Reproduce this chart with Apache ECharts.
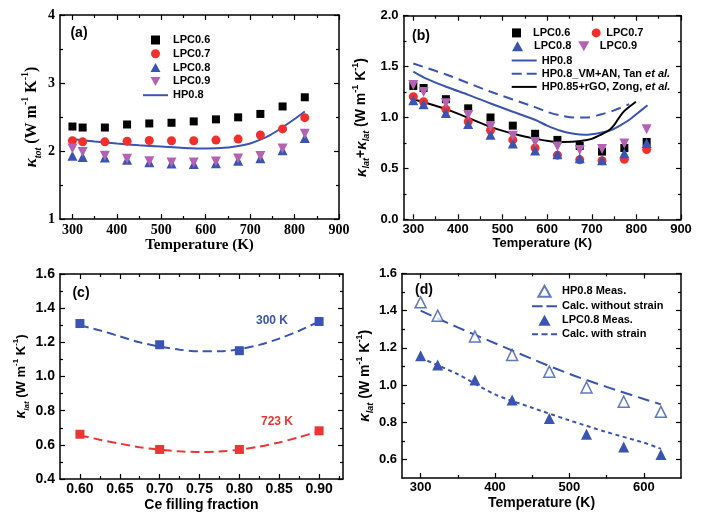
<!DOCTYPE html>
<html><head><meta charset="utf-8">
<script src="https://cdn.jsdelivr.net/npm/echarts@6/dist/echarts.min.js"></script>
<style>html,body{margin:0;padding:0;background:#fff}#c{width:703px;height:517px}</style>
</head><body><div id="c"></div>
<script>
// ---------- Panel (a) ----------
const tempsA = [300,323,373,423,473,523,573,623,673,723,773,823];
const aLPC06 = [2.36,2.345,2.345,2.39,2.405,2.415,2.435,2.465,2.495,2.545,2.655,2.79];
const aLPC07 = [2.15,2.135,2.135,2.145,2.155,2.15,2.15,2.16,2.175,2.235,2.325,2.49];
const aLPC08 = [1.93,1.91,1.905,1.87,1.835,1.815,1.81,1.82,1.855,1.895,2.01,2.19];
const aLPC09 = [2.035,1.985,1.93,1.885,1.85,1.83,1.83,1.845,1.89,1.925,2.035,2.255];
const aHPT = [300,350,400,450,500,550,600,650,680,700,720,745,770,800,823];
const aHP  = [2.175,2.14,2.11,2.085,2.065,2.045,2.035,2.05,2.08,2.11,2.16,2.235,2.335,2.47,2.58];
const aXMajor = [300,400,500,600,700,800,900];
const aXMinor = [350,450,550,650,750,850];
const aYMajor = [1,2,3,4];
const aYMinor = [1.5,2.5,3.5];

// ---------- Panel (b) ----------
const tempsB = [300,323,373,423,473,523,573,623,673,723,773,823];
const bLPC06 = [1.31,1.29,1.18,1.09,1.00,0.92,0.84,0.78,0.72,0.665,0.70,0.76];
const bLPC07 = [1.205,1.155,1.08,0.96,0.875,0.78,0.70,0.63,0.585,0.575,0.59,0.685];
const bLPC08 = [1.17,1.13,1.045,0.935,0.83,0.745,0.675,0.64,0.60,0.58,0.65,0.75];
const bLPC09 = [1.32,1.25,1.14,1.025,0.91,0.82,0.76,0.715,0.68,0.69,0.745,0.885];
const bHPT = [300,325,375,425,472,523,574,600,630,660,685,720,745,765,785,802,825];
const bHP  = [1.45,1.39,1.30,1.22,1.14,1.057,0.975,0.92,0.87,0.84,0.83,0.85,0.88,0.925,0.98,1.04,1.12];
const bTanT = [300,375,472,574,600,630,660,690,720,750,784];
const bTan  = [1.53,1.42,1.255,1.10,1.055,1.02,1.0,1.0,1.03,1.07,1.13];
const bZongT = [300,375,472,524,574,610,640,675,700,720,740,750,760,772,799];
const bZong  = [1.18,1.08,0.91,0.84,0.79,0.765,0.76,0.77,0.79,0.83,0.88,0.925,0.99,1.06,1.155];
const bXMajor = [300,400,500,600,700,800,900];
const bXMinor = [350,450,550,650,750,850];
const bYMajor = [0,0.5,1.0,1.5,2.0];
const bYMinor = [0.25,0.75,1.25,1.75];

// ---------- Panel (c) ----------
const cFill = [0.60,0.70,0.80,0.90];
const c300 = [1.31,1.186,1.151,1.322];
const c723 = [0.662,0.573,0.573,0.682];
const cFitX = [0.60,0.625,0.65,0.675,0.70,0.725,0.75,0.775,0.80,0.825,0.85,0.875,0.90];
const c300Fit = [1.30,1.27,1.235,1.20,1.175,1.157,1.148,1.148,1.16,1.185,1.222,1.268,1.322];
const c723Fit = [0.655,0.63,0.607,0.586,0.572,0.562,0.558,0.561,0.572,0.59,0.614,0.645,0.68];
const cXMajor = [0.60,0.65,0.70,0.75,0.80,0.85,0.90];
const cXMinor = [0.625,0.675,0.725,0.775,0.825,0.875,0.925];
const cYMajor = [0.4,0.6,0.8,1.0,1.2,1.4,1.6];
const cYMinor = [0.5,0.7,0.9,1.1,1.3,1.5];

// ---------- Panel (d) ----------
const dTemp = [300,323,373,423,473,523,573,623];
const dHP   = [1.445,1.373,1.261,1.162,1.072,0.987,0.910,0.856];
const dLPC  = [1.157,1.108,1.027,0.919,0.82,0.735,0.667,0.627];
const dCalcT = [300,350,400,450,500,550,600,623];
const dNoStrain = [1.40,1.31,1.225,1.14,1.06,0.99,0.925,0.896];
const dWithStrain = [1.146,1.058,0.95,0.878,0.81,0.747,0.69,0.657];
const dXMajor = [300,400,500,600];
const dXMinor = [350,450,550];
const dYMajor = [0.6,0.8,1.0,1.2,1.4,1.6];
const dYMinor = [0.7,0.9,1.1,1.3,1.5];

const BLACK = '#000', RED = '#f2302b', BLUE = '#3b54b3', PURPLE = '#b463b4', CRED = '#ee3535';
const SANS = "'Liberation Sans', Arial, sans-serif";
const SERIF = "'Liberation Serif', 'Times New Roman', serif";
const DOWN = 'path://M0,0L10,0L5,9Z';
const UP = 'path://M5,0L10,9L0,9Z';
const SQ = 'path://M0,0H10V10H0Z';
const IC_SOLID = 'path://M0,0H25V2H0Z';
const IC_DASH = 'path://M0,0H10V2H0ZM15,0H25V2H15Z';
const IC_LDASH = 'path://M0,0H11V2H0ZM15,0H26V2H15Z';
const IC_SDASH = 'path://M0,0H6V2H0ZM9.5,0H15.5V2H9.5ZM19,0H25V2H19Z';

const rects = [
  {left:60, top:15, width:279, height:204},
  {left:403.5, top:15.7, width:277.5, height:203.6},
  {left:60, top:274, width:283, height:205},
  {left:402, top:273.5, width:279, height:204.5}
];
const grids = [];
rects.forEach(r => { grids.push(Object.assign({}, r)); grids.push(Object.assign({}, r)); });

const xAxes = [], yAxes = [];
function pair(list, grid, min, max, vals, len, withLine, label, nameOpts, dim) {
  const pos = dim === 'x' ? ['bottom','top'] : ['left','right'];
  for (let k = 0; k < 2; k++) {
    const ax = {
      type:'value', gridIndex:grid, min, max, position:pos[k],
      splitLine:{show:false},
      axisLine:{show:withLine, onZero:false, lineStyle:{color:'#000', width:1.5}},
      axisTick:{show:true, inside:true, length:len, customValues:vals, lineStyle:{color:'#000', width:1.2}},
      axisLabel:{show:false}
    };
    if (k === 0 && label) { ax.axisLabel = label; Object.assign(ax, nameOpts); }
    list.push(ax);
  }
}
function rich(fs, family) {
  const L = Math.round(fs * 1.45);
  const b = {fontFamily:family, fontWeight:'bold', color:'#000', lineHeight:L};
  return {
    fontFamily:family, fontWeight:'bold', fontSize:fs, color:'#000', lineHeight:L,
    rich:{
      k:Object.assign({}, b, {fontSize:fs+1, fontStyle:'italic'}),
      s:Object.assign({}, b, {fontSize:Math.round(fs*0.65), fontStyle:'italic', verticalAlign:'bottom'}),
      p:Object.assign({}, b, {fontSize:Math.round(fs*0.65), verticalAlign:'top'}),
      n:Object.assign({}, b, {fontSize:fs})
    }
  };
}
function panel(p, xr, yr, xMaj, xMin, yMaj, yMin, xDec, yDec, family, fs, xName, xGap, yName, yGap, yfs, xfs, xMargin) {
  const g = p * 2;
  const xl = {show:true, customValues:xMaj, formatter:v => Number(v).toFixed(xDec), color:'#000', fontFamily:family, fontWeight:'bold', fontSize:fs, margin:xMargin};
  const yl = {show:true, customValues:yMaj, formatter:v => Number(v).toFixed(yDec), color:'#000', fontFamily:family, fontWeight:'bold', fontSize:fs, margin:5};
  pair(xAxes, g, xr[0], xr[1], xMaj, 5, true, xl,
    {name:xName, nameLocation:'middle', nameGap:xGap, nameTextStyle:{fontFamily:family, fontWeight:'bold', fontSize:xfs, color:'#000'}}, 'x');
  pair(xAxes, g+1, xr[0], xr[1], xMin, 3, false, null, null, 'x');
  pair(yAxes, g, yr[0], yr[1], yMaj, 5, true, yl,
    {name:yName, nameLocation:'middle', nameGap:yGap, nameRotate:90, nameTextStyle:rich(yfs, family)}, 'y');
  pair(yAxes, g+1, yr[0], yr[1], yMin, 3, false, null, null, 'y');
}
panel(0, [272,900], [1,4], aXMajor, aXMinor, aYMajor, aYMinor, 0, 0, SERIF, 14,
  'Temperature (K)', 18, '{k|κ}{s|tot}{n| (W m}{p|-1}{n| K}{p|-1}{n|)}', 17, 16, 15, 4);
panel(1, [278,900], [0,2], bXMajor, bXMinor, bYMajor, bYMinor, 0, 1, SANS, 13,
  'Temperature (K)', 18, '{k|κ}{s|lat}{n|+}{k|κ}{s|lat}{n| (W m}{p|-1}{n| K}{p|-1}{n|)}', 32, 14, 13, 4);
panel(2, [0.575,0.93], [0.4,1.6], cXMajor, cXMinor, cYMajor, cYMinor, 2, 1, SANS, 14,
  'Ce filling fraction', 19, '{k|κ}{s|lat}{n| (W m}{p|-1}{n| K}{p|-1}{n|)}', 29, 13, 14, 3);
panel(3, [275,650], [0.5,1.6], dXMajor, dXMinor, dYMajor, dYMinor, 0, 1, SANS, 13,
  'Temperature (K)', 18, '{k|κ}{s|lat}{n| (W m}{p|-1}{n| K}{p|-1}{n|)}', 27, 14, 14, 3);

const zip = (xs, ys) => xs.map((x, i) => [x, ys[i]]);
function scatter(name, p, xs, ys, symbol, size, color, extra) {
  return Object.assign({name, type:'scatter', xAxisIndex:p*4, yAxisIndex:p*4, data:zip(xs, ys),
    symbol, symbolSize:size, itemStyle:{color, opacity:1}, z:3}, extra || {});
}
function line(name, p, xs, ys, color, type, width, smooth) {
  return {name, type:'line', xAxisIndex:p*4, yAxisIndex:p*4, data:zip(xs, ys), symbol:'none', showSymbol:false,
    smooth:smooth, lineStyle:{color, width, type}, itemStyle:{color}, z:2};
}

const series = [
  // (a)
  scatter('LPC0.6', 0, tempsA, aLPC06, 'rect', 8, BLACK),
  scatter('LPC0.7', 0, tempsA, aLPC07, 'circle', 9, RED),
  scatter('LPC0.8', 0, tempsA, aLPC08, UP, 10, BLUE),
  scatter('LPC0.9', 0, tempsA, aLPC09, DOWN, 10, PURPLE),
  line('HP0.8', 0, aHPT, aHP, BLUE, 'solid', 2, 0.3),
  // (b)
  line('HP0.8', 1, bHPT, bHP, BLUE, 'solid', 2, 0.3),
  line('HP0.8_VM+AN, Tan et al.', 1, bTanT, bTan, BLUE, [10,6], 2, 0.3),
  line('HP0.85+rGO, Zong, et al.', 1, bZongT, bZong, BLACK, 'solid', 2, 0.3),
  scatter('LPC0.6', 1, tempsB, bLPC06, 'rect', 8, BLACK),
  scatter('LPC0.7', 1, tempsB, bLPC07, 'circle', 9, RED),
  scatter('LPC0.8', 1, tempsB, bLPC08, UP, 10, BLUE),
  scatter('LPC0.9', 1, tempsB, bLPC09, DOWN, 10, PURPLE),
  // (c)
  line('fit300', 2, cFitX, c300Fit, BLUE, [9,5], 2, 0.3),
  line('fit723', 2, cFitX, c723Fit, CRED, [9,5], 2, 0.3),
  scatter('300 K', 2, cFill, c300, 'rect', 9, BLUE),
  scatter('723 K', 2, cFill, c723, 'rect', 9, CRED),
  // (d)
  line('Calc. without strain', 3, dCalcT, dNoStrain, BLUE, [12,6], 2, 0.3),
  line('Calc. with strain', 3, dCalcT, dWithStrain, BLUE, [4,3.5], 2, 0.3),
  scatter('HP0.8 Meas.', 3, dTemp, dHP, UP, 11, '#fff', {itemStyle:{color:'#fff', borderColor:BLUE, borderWidth:1.5}}),
  scatter('LPC0.8 Meas.', 3, dTemp, dLPC, UP, 11, BLUE)
];

const legTxt = {fontFamily:SANS, fontWeight:'bold', fontSize:11, color:'#000',
  rich:{i:{fontFamily:SANS, fontWeight:'bold', fontStyle:'italic', fontSize:11, color:'#000'}}};
const it = (name, icon) => ({name, icon});
function leg(data, left, top, w, h, gap) {
  return {data, left, top, itemWidth:w, itemHeight:h, itemGap:gap, orient:'vertical', symbolKeepAspect:true,
    selectedMode:false, padding:0, textStyle:legTxt, formatter:n => n.replace('et al.', '{i|et al.}')};
}
const legends = [
  leg([it('LPC0.6', SQ), it('LPC0.7', 'circle'), it('LPC0.8', UP), it('LPC0.9', DOWN), it('HP0.8', IC_SOLID)], 143, 34.5, 25, 9, 2.8),
  leg([it('LPC0.6', SQ)], 512, 27.4, 23, 9, 0),
  leg([it('LPC0.7', 'circle')], 591.7, 27.4, 10, 9, 0),
  leg([it('LPC0.8', UP)], 512, 40.8, 23, 10, 0),
  leg([it('LPC0.9', DOWN)], 578.3, 40.8, 22, 10, 0),
  leg([it('HP0.8', IC_SOLID), it('HP0.8_VM+AN, Tan et al.', IC_DASH), it('HP0.85+rGO, Zong, et al.', IC_SOLID)], 511.7, 55, 25, 9, 2.2),
  leg([it('HP0.8 Meas.', UP), it('Calc. without strain', IC_LDASH), it('LPC0.8 Meas.', UP), it('Calc. with strain', IC_SDASH)], 532, 284.8, 25, 11, 3)
];

const lab = (t, x, y, color, size) => ({type:'text', x, y, z:10,
  style:{text:t, fill:color || '#000', font:'bold ' + (size || 14) + 'px ' + SANS, textAlign:'center', textVerticalAlign:'middle'}});
const graphic = [
  lab('(a)', 79, 33), lab('(b)', 421, 36), lab('(c)', 81, 293), lab('(d)', 424, 290),
  lab('300 K', 272, 321, BLUE, 12), lab('723 K', 277, 422, CRED, 12)
];

const chart = echarts.init(document.getElementById('c'), null, {renderer:'canvas'});
chart.setOption({
  animation:false, backgroundColor:'#fff',
  grid:grids, xAxis:xAxes, yAxis:yAxes, series, legend:legends, graphic
});
</script></body></html>
